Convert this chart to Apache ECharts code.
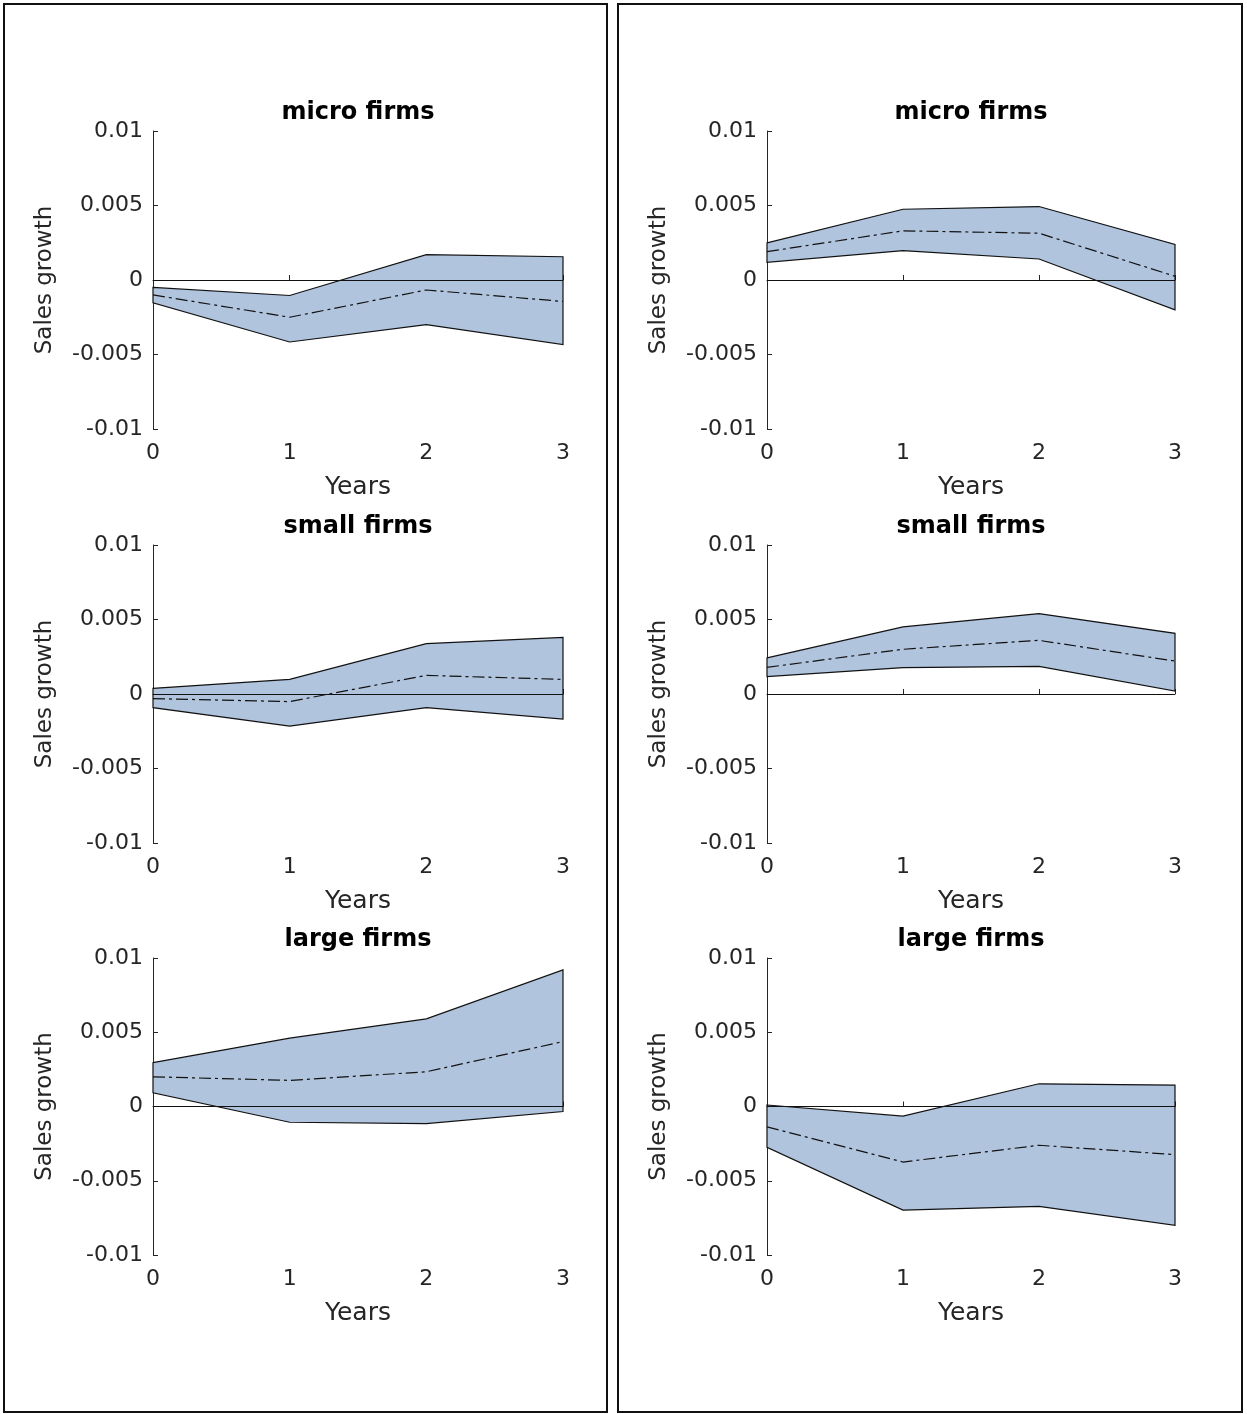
<!DOCTYPE html>
<html>
<head>
<meta charset="utf-8">
<script src="https://cdn.jsdelivr.net/npm/echarts@6/dist/echarts.min.js"></script>
<style>
html,body{margin:0;padding:0;background:#fff;}
#chart{width:1247px;height:1414px;}
</style>
</head>
<body>
<div id="chart"></div>
<script>
// ---- data ----
const years = [0, 1, 2, 3];
const yTicks = [-0.01, -0.005, 0, 0.005, 0.01];
const panelTitles = ['micro firms', 'small firms', 'large firms'];
const xAxisName = 'Years';
const yAxisName = 'Sales growth';

// left column
const leftMicroUpper = [-0.0005, -0.00104, 0.0017, 0.00156];
const leftMicroMean  = [-0.0010, -0.0025, -0.00067, -0.00144];
const leftMicroLower = [-0.00153, -0.00416, -0.0030, -0.00433];

const leftSmallUpper = [0.00038, 0.00098, 0.00338, 0.0038];
const leftSmallMean  = [-0.00031, -0.00051, 0.00125, 0.00098];
const leftSmallLower = [-0.00092, -0.00215, -0.00092, -0.00168];

const leftLargeUpper = [0.00295, 0.0046, 0.0059, 0.0092];
const leftLargeMean  = [0.0020, 0.00176, 0.00234, 0.00437];
const leftLargeLower = [0.00092, -0.00106, -0.00115, -0.00034];

// right column
const rightMicroUpper = [0.00249, 0.00475, 0.00493, 0.00238];
const rightMicroMean  = [0.0019, 0.0033, 0.00314, 0.00025];
const rightMicroLower = [0.00119, 0.00197, 0.00141, -0.0020];

const rightSmallUpper = [0.00242, 0.0045, 0.0054, 0.00407];
const rightSmallMean  = [0.00179, 0.0030, 0.0036, 0.00221];
const rightSmallLower = [0.00116, 0.00177, 0.00186, 0.0002];

const rightLargeUpper = [0.0001, -0.00065, 0.00153, 0.00144];
const rightLargeMean  = [-0.00137, -0.00374, -0.00261, -0.00324];
const rightLargeLower = [-0.00275, -0.00698, -0.00673, -0.0080];

// ---- layout ----
const panels = [
  {title: panelTitles[0], up: leftMicroUpper,  mean: leftMicroMean,  lo: leftMicroLower,  left: 153, top: 131, width: 410, height: 298},
  {title: panelTitles[1], up: leftSmallUpper,  mean: leftSmallMean,  lo: leftSmallLower,  left: 153, top: 545, width: 410, height: 298},
  {title: panelTitles[2], up: leftLargeUpper,  mean: leftLargeMean,  lo: leftLargeLower,  left: 153, top: 958, width: 410, height: 297},
  {title: panelTitles[0], up: rightMicroUpper, mean: rightMicroMean, lo: rightMicroLower, left: 767, top: 131, width: 408, height: 298},
  {title: panelTitles[1], up: rightSmallUpper, mean: rightSmallMean, lo: rightSmallLower, left: 767, top: 545, width: 408, height: 298},
  {title: panelTitles[2], up: rightLargeUpper, mean: rightLargeMean, lo: rightLargeLower, left: 767, top: 958, width: 408, height: 297}
];

const FONT = 'DejaVu Sans';
const axisColor = '#262626';

function bandRender(params, api) {
  if (params.dataIndexInside !== 0) return;
  const n = params.dataInsideLength;
  const top = [], bot = [];
  for (let i = 0; i < n; i++) {
    top.push(api.coord([api.value(0, i), api.value(2, i)]));
    bot.push(api.coord([api.value(0, i), api.value(1, i)]));
  }
  return {
    type: 'polygon',
    shape: {points: top.concat(bot.reverse())},
    style: {fill: '#b0c4de', stroke: '#111', lineWidth: 1.2}
  };
}

const grids = [], xAxes = [], yAxes = [], series = [], titles = [];
panels.forEach((p, k) => {
  grids.push({left: p.left, top: p.top, width: p.width, height: p.height});
  titles.push({
    text: p.title, left: p.left + p.width / 2 - 5, top: p.top - 35, textAlign: 'center',
    textStyle: {fontFamily: FONT, fontSize: 24, fontWeight: 'bold', color: '#000'}
  });
  xAxes.push({
    type: 'value', gridIndex: k, min: 0, max: 3, interval: 1,
    name: xAxisName, nameLocation: 'middle', nameGap: 46,
    nameTextStyle: {fontFamily: FONT, fontSize: 25, color: axisColor},
    axisLine: {lineStyle: {color: axisColor, width: 1}},
    axisTick: {inside: true, length: 5, lineStyle: {color: axisColor}},
    axisLabel: {fontFamily: FONT, fontSize: 22, color: axisColor, margin: 13},
    splitLine: {show: false}
  });
  yAxes.push({
    type: 'value', gridIndex: k, min: yTicks[0], max: yTicks[yTicks.length - 1], interval: 0.005,
    name: yAxisName, nameLocation: 'middle', nameRotate: 90, nameGap: 96,
    nameTextStyle: {fontFamily: FONT, fontSize: 23, color: axisColor},
    axisLine: {show: true, lineStyle: {color: axisColor, width: 1}},
    axisTick: {show: true, inside: true, length: 5, lineStyle: {color: axisColor}},
    axisLabel: {fontFamily: FONT, fontSize: 22, color: axisColor, margin: 10,
      formatter: v => String(+v.toFixed(4))},
    splitLine: {show: false}
  });
  series.push({
    type: 'custom', xAxisIndex: k, yAxisIndex: k,
    renderItem: bandRender,
    encode: {x: 0, y: [1, 2]},
    data: years.map((x, i) => [x, p.lo[i], p.up[i]]),
    silent: true, z: 1
  });
  series.push({
    type: 'line', xAxisIndex: k, yAxisIndex: k,
    data: years.map((x, i) => [x, p.mean[i]]),
    symbol: 'none', silent: true, z: 3,
    lineStyle: {color: '#111', width: 1.2, type: [12, 4, 3, 4]},
    markLine: {
      silent: true, symbol: 'none', label: {show: false},
      lineStyle: {color: '#111', width: 1.2, type: 'solid'},
      data: [{yAxis: 0}]
    }
  });
});

const chart = echarts.init(document.getElementById('chart'), null, {renderer: 'canvas'});
chart.setOption({
  animation: false,
  backgroundColor: '#fff',
  title: titles,
  grid: grids,
  xAxis: xAxes,
  yAxis: yAxes,
  series: series,
  graphic: [
    {type: 'rect', shape: {x: 4, y: 4, width: 603, height: 1408}, style: {fill: 'none', stroke: '#111', lineWidth: 2}, silent: true},
    {type: 'rect', shape: {x: 618, y: 4, width: 624, height: 1408}, style: {fill: 'none', stroke: '#111', lineWidth: 2}, silent: true}
  ]
});
</script>
</body>
</html>
